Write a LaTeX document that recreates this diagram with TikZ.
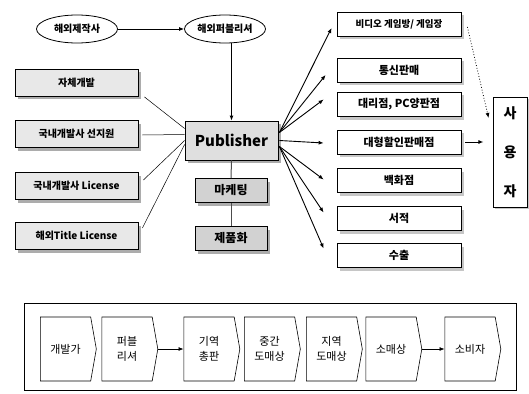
\documentclass[tikz,border=0pt]{standalone}
\usepackage{fontspec}
\setmainfont{Noto Sans CJK KR}
\usetikzlibrary{shapes.geometric,shapes.symbols,shadows,arrows.meta,calc}
\begin{document}
\begin{tikzpicture}[x=1pt,y=-1pt,
  tip/.style={-{Latex[length=5pt,width=4pt]}},
  ebox/.style={ellipse,draw,line width=0.8pt,minimum width=81pt,minimum height=28pt,inner sep=0pt,font=\bfseries\fontsize{10}{12}\selectfont},
  sbox/.style={draw,line width=0.8pt,fill=gray!18,minimum width=123pt,minimum height=27pt,inner sep=1pt,
    font=\bfseries\fontsize{10}{12}\selectfont,
    drop shadow={shadow xshift=3pt,shadow yshift=-3pt,fill=gray!65,opacity=1}},
  pbox/.style={draw,line width=0.8pt,fill=gray!25,minimum width=93pt,minimum height=39pt,inner sep=1pt,
    font=\bfseries\fontsize{15}{17}\selectfont,
    drop shadow={shadow xshift=3pt,shadow yshift=-3pt,fill=gray!65,opacity=1}},
  mbox/.style={draw,line width=0.8pt,fill=gray!35,minimum width=72pt,minimum height=24pt,inner sep=1pt,
    font=\bfseries\fontsize{12}{14}\selectfont,
    drop shadow={shadow xshift=3pt,shadow yshift=-3pt,fill=gray!65,opacity=1}},
  rbox/.style={draw,line width=0.8pt,fill=white,minimum width=124pt,minimum height=24pt,inner sep=1pt,
    font=\bfseries\fontsize{11}{13}\selectfont,
    drop shadow={shadow xshift=3pt,shadow yshift=-3pt,fill=gray!45,opacity=1}},
  chev/.style={signal,signal to=east,signal from=nowhere,signal pointer angle=160,draw,line width=0.6pt,
    minimum width=56pt,minimum height=64pt,inner sep=1pt,align=center,font=\fontsize{11}{15}\selectfont},
  thinline/.style={line width=0.5pt},
  fanarrow/.style={tip,line width=0.9pt}
]
\useasboundingbox (0,0) rectangle (529,393);

% top ellipses
\node[ebox] (e1) at (77,29) {해외제작사};
\node[ebox] (e2) at (225,29) {해외퍼블리셔};

% left boxes
\node[sbox] (l1) at (76.5,83) {자체개발};
\node[sbox] (l2) at (76.5,134) {국내개발사 선지원};
\node[sbox] (l3) at (76.5,186) {국내개발사 License};
\node[sbox] (l4) at (76.5,236) {해외Title License};

% publisher and below
\node[pbox] (pub) at (231.5,140.5) {Publisher};
\node[mbox] (mk) at (231,190.5) {마케팅};
\node[mbox] (pr) at (231,238.5) {제품화};

% right boxes
\node[rbox,font=\bfseries\fontsize{9.5}{11}\selectfont] (r1) at (399,24) {비디오 게임방/ 게임장};
\node[rbox] (r2) at (399,70) {통신판매};
\node[rbox] (r3) at (399,104.5) {대리점, PC양판점};
\node[rbox] (r4) at (399,142) {대형할인판매점};
\node[rbox] (r5) at (399,180.5) {백화점};
\node[rbox] (r6) at (399,218.5) {서적};
\node[rbox] (r7) at (399,255.5) {수출};

% user box
\node[draw,fill=white,line width=0.8pt,minimum width=34pt,minimum height=110pt,inner sep=0pt,align=center,
  font=\bfseries\fontsize{14}{39}\selectfont,
  drop shadow={shadow xshift=2pt,shadow yshift=-2pt,fill=gray!45,opacity=1}] (user) at (510,152) {사\\용\\자};

% connectors top
\draw[fanarrow] (e1.east) -- (e2.west);
\draw[fanarrow] (e2.south -| pub.north) -- (pub.north);

% left lines
\draw[thinline] ($(l1.south east)+(6,0)$) -- ($(pub.west)+(0,-12)$);
\draw[thinline] ($(l2.east)+(4,1)$) -- ($(pub.west)+(0,-6)$);
\draw[thinline] ($(l3.east)+(5,-6)$) -- ($(pub.west)+(0,0)$);
\draw[thinline] ($(l4.east)+(4,-8)$) -- ($(pub.west)+(0,4)$);

% below publisher
\draw[line width=1pt,gray!60!black] (pub.south) -- (mk.north);
\draw[line width=1pt,gray!60!black] (mk.south) -- (pr.north);

% fan arrows
\coordinate (a1) at ($(r1.west)+(-5,4)$);
\coordinate (a2) at ($(r2.west)+(-11,5)$);
\coordinate (a3) at ($(r3.west)+(-13,-5)$);
\coordinate (a4) at ($(r4.west)+(-13,1)$);
\coordinate (a5) at ($(r5.west)+(-13,-1)$);
\coordinate (a6) at ($(r6.west)+(-13,-6)$);
\coordinate (a7) at ($(r7.west)+(-13,-7)$);
\coordinate (p1) at ($(pub.east)+(1,-8)$);
\coordinate (p2) at ($(pub.east)+(1,0)$);
\coordinate (p3) at ($(pub.east)+(1,6)$);
\draw[fanarrow] (p1) -- (a1);
\draw[fanarrow] (p1) -- (a2);
\draw[fanarrow] (p1) -- (a3);
\draw[fanarrow] (p2) -- (a4);
\draw[fanarrow] (p3) -- (a5);
\draw[fanarrow] (p3) -- (a6);
\draw[fanarrow] (p3) -- (a7);

% to user
\coordinate (d1) at ($(r1.east)+(6,3)$);
\coordinate (d2) at ($(user.west)+(-4,-34)$);
\draw[tip,dotted,line width=0.8pt] (d1) -- (d2);
\coordinate (h1) at ($(r4.east)+(4,0)$);
\coordinate (h2) at ($(r4.east)+(22,0)$);
\draw[fanarrow] (h1) -- (h2);

% bottom frame
\node[draw,line width=0.6pt,minimum width=492pt,minimum height=87pt,inner sep=0pt] (frame) at (270,346.5) {};
\node[chev] (c1) at (65.5,349) {개발가};
\node[chev] (c2) at (127,349) {퍼블\\리셔};
\node[chev] (c3) at (209,349) {기역\\총판};
\node[chev] (c4) at (269.5,349) {중간\\도매상};
\node[chev] (c5) at (331.5,349) {지역\\도매상};
\node[chev] (c6) at (391,349) {소매상};
\node[chev] (c7) at (470,349) {소비자};
\draw[tip,line width=0.7pt] (c2.east) -- (c3.west);
\draw[tip,line width=0.7pt] (c6.east) -- (c7.west);
\end{tikzpicture}
\end{document}
